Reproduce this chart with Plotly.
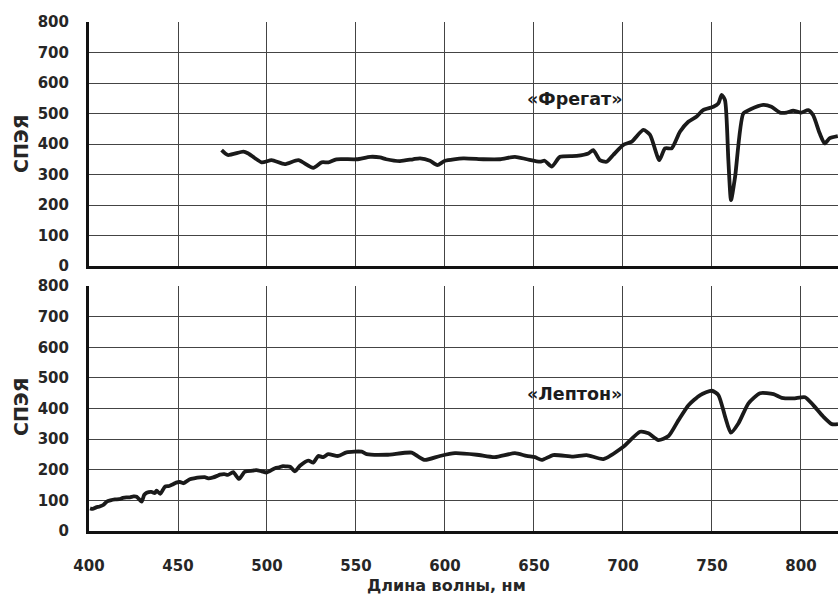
import plotly.graph_objects as go

# ---- data ----
fregat_x = [474.5, 478, 486.7, 489.5, 497, 502.6, 510, 517.6, 526, 530.7, 534.5, 539, 550.4, 558,
            563.5, 567, 574.7, 582, 586, 591.6, 595.7, 600, 610.3, 621.5, 631, 639.3, 646, 653.4,
            656, 660, 664.6, 674, 680.5, 683.3, 687, 690.8, 694.5, 700.2, 705, 711.4, 715.2,
            720.4, 723.6, 727.4, 732, 736.7, 741.4, 745, 750.8, 753.6, 755.4, 757.3, 759.2,
            760.7, 763, 767.6, 771.4, 778.8, 783.4, 788.2, 791.9, 795.6, 800.2, 804, 806.8,
            810.5, 813.3, 816.2, 820.7]
fregat_y = [380, 364, 375, 369, 340, 347, 334, 347, 322, 340, 340, 350, 350, 358,
            356, 350, 344, 350, 353, 345, 331, 345, 353, 350, 350, 358, 350, 342,
            345, 326, 358, 361, 369, 380, 347, 342, 364, 397, 408, 446, 430,
            347, 386, 386, 440, 473, 490, 511, 522, 533, 561, 544, 347,
            216, 293, 500, 513, 528, 522, 503, 503, 509, 503, 511, 495,
            435, 402, 419, 426]

lepton_x = [400.6, 402, 404, 406, 408, 410, 412, 414.6, 417, 419, 421, 423, 425, 426.8, 429.6,
            431, 432.4, 435, 437, 438, 440, 442.7, 445, 447, 449, 451, 453, 455, 456.7, 459,
            462.4, 465, 467, 469.8, 472, 473.6, 476, 478, 481, 484.3, 487.6, 492, 494, 497,
            499.8, 504.5, 507, 509, 511, 513, 515.7, 518.5, 523.2, 526, 528.8, 531.6, 534.4,
            540, 544.7, 553.2, 556, 567.2, 581.3, 585, 588.8, 597.2, 605.6, 617.8, 628,
            639.3, 645.8, 650.6, 654.3, 660.8, 672, 679.6, 689, 700.2, 709.6, 714.3, 719.9,
            725.6, 731.2, 736.8, 743.4, 749.9, 753.6, 757.4, 760.6, 764.9, 770.5, 777,
            784.6, 789.2, 795.7, 802.3, 806.9, 812.6, 817.3, 820.8]
lepton_y = [74, 72, 77, 80, 85, 96, 100, 103, 104, 108, 110, 110, 113, 112, 96,
            118, 125, 128, 124, 132, 121, 145, 147, 152, 158, 160, 156, 163, 169, 172,
            175, 176, 172, 175, 180, 184, 186, 183, 192, 170, 194, 197, 199, 195,
            191, 205, 208, 212, 211, 210, 195, 213, 230, 223, 245, 241, 251,
            245, 257, 259, 251, 249, 256, 243, 232, 245, 254, 249, 241,
            254, 245, 241, 232, 248, 243, 248, 235, 275, 324, 319, 297,
            310, 362, 411, 444, 458, 444, 373, 321, 352, 417, 450,
            447, 435, 433, 437, 411, 373, 349, 349]

x_ticks = [400, 450, 500, 550, 600, 650, 700, 750, 800]
y_ticks = [0, 100, 200, 300, 400, 500, 600, 700, 800]
y_title = "СПЭЯ"
x_title = "Длина волны, нм"
label_top = "«Фрегат»"
label_bottom = "«Лептон»"

FONT = "DejaVu Sans"
LINE = "#1a1a1a"
GRID = "#444444"

fig = go.Figure()
fig.add_trace(go.Scatter(x=fregat_x, y=fregat_y, mode="lines", xaxis="x2", yaxis="y2",
                         line=dict(color=LINE, width=3.8, shape="spline", smoothing=0.6),
                         showlegend=False, hoverinfo="skip"))
fig.add_trace(go.Scatter(x=lepton_x, y=lepton_y, mode="lines", xaxis="x", yaxis="y",
                         line=dict(color=LINE, width=3.8, shape="spline", smoothing=0.6),
                         showlegend=False, hoverinfo="skip"))

xr = [400, 820.8]
tickfont = dict(family=FONT, size=15, color="#262626", weight="bold")
common_y = dict(range=[0, 800], tickvals=y_ticks, showgrid=True, gridcolor=GRID, gridwidth=1,
                showline=True, linecolor="#111111", linewidth=3, zeroline=False,
                ticks="outside", ticklen=14, tickcolor="rgba(0,0,0,0)", tickfont=tickfont,
                fixedrange=True)
common_x = dict(range=xr, tickvals=x_ticks, showgrid=True, gridcolor=GRID, gridwidth=1,
                showline=True, linecolor="#111111", linewidth=3, zeroline=False,
                fixedrange=True)

fig.update_layout(
    width=838, height=596,
    margin=dict(l=89, r=0, t=22, b=65),
    paper_bgcolor="white", plot_bgcolor="white",
    xaxis=dict(**common_x, anchor="y", domain=[0, 1], ticks="outside", ticklen=19,
               tickcolor="rgba(0,0,0,0)", tickfont=tickfont),
    yaxis=dict(**common_y, anchor="x", domain=[0, 0.4813]),
    xaxis2=dict(**common_x, anchor="y2", domain=[0, 1], matches="x", showticklabels=False),
    yaxis2=dict(**common_y, anchor="x2", domain=[0.5206, 1]),
    annotations=[
        dict(text=y_title, xref="paper", yref="paper", x=-0.0908, y=0.7603, textangle=-90,
             showarrow=False, font=dict(family=FONT, size=19, color="#262626", weight="bold"),
             xanchor="center", yanchor="middle"),
        dict(text=y_title, xref="paper", yref="paper", x=-0.0908, y=0.2436, textangle=-90,
             showarrow=False, font=dict(family=FONT, size=19, color="#262626", weight="bold"),
             xanchor="center", yanchor="middle"),
        dict(text=x_title, xref="paper", yref="paper", x=(446 - 89) / 749, y=-0.108,
             showarrow=False, font=dict(family=FONT, size=16, color="#262626", weight="bold"),
             xanchor="center", yanchor="middle"),
        dict(text=label_top, xref="x2", yref="y2", x=672.5, y=547, showarrow=False,
             font=dict(family=FONT, size=17.5, color="#1c1c1c", weight="bold"),
             xanchor="center", yanchor="middle"),
        dict(text=label_bottom, xref="x", yref="y", x=672.5, y=447, showarrow=False,
             font=dict(family=FONT, size=17.5, color="#1c1c1c", weight="bold"),
             xanchor="center", yanchor="middle"),
    ],
)

fig.write_html("out.html")
